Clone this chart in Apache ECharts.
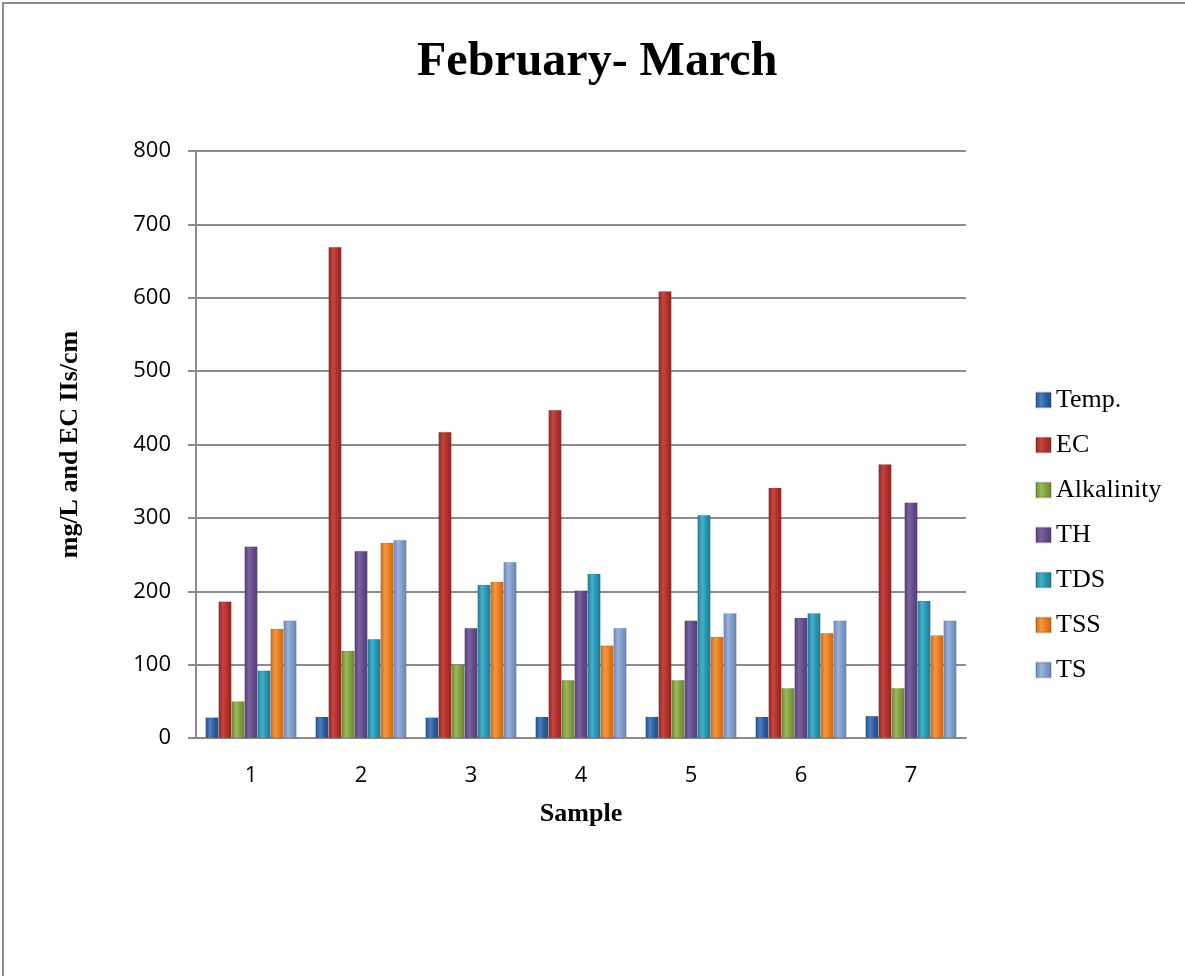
<!DOCTYPE html>
<html>
<head>
<meta charset="utf-8">
<script src="https://cdn.jsdelivr.net/npm/echarts@6/dist/echarts.min.js"></script>
<style>
html,body{margin:0;padding:0;background:#fff;}
#chart{width:1185px;height:976px;}
</style>
</head>
<body>
<div id="chart"></div>
<script>
const categories = ['1','2','3','4','5','6','7'];
const temp       = [28, 29, 28, 29, 29, 29, 30];
const ec         = [186, 669, 417, 447, 609, 341, 373];
const alkalinity = [50, 119, 100, 79, 79, 68, 68];
const th         = [261, 255, 150, 201, 160, 164, 321];
const tds        = [92, 135, 209, 224, 304, 170, 187];
const tss        = [149, 266, 213, 126, 138, 143, 140];
const ts         = [160, 270, 240, 150, 170, 160, 160];
const seriesNames = ['Temp.', 'EC', 'Alkalinity', 'TH', 'TDS', 'TSS', 'TS'];
const seriesData = [temp, ec, alkalinity, th, tds, tss, ts];
const baseColors = [
  ['#2a5a98', '#4a7fc2', '#234d85'],
  ['#a8302c', '#c9443f', '#8e2623'],
  ['#7f9c3c', '#9bbb59', '#6b8531'],
  ['#624a88', '#7d62a3', '#533e74'],
  ['#2593ad', '#45b0cb', '#1d7a90'],
  ['#e3791c', '#f7963f', '#c86817'],
  ['#7c98c6', '#98b2dc', '#6a84b0']
];

const chart = echarts.init(document.getElementById('chart'));

function grad(c) {
  return new echarts.graphic.LinearGradient(0, 0, 1, 0, [
    {offset: 0, color: c[2]},
    {offset: 0.35, color: c[1]},
    {offset: 0.7, color: c[0]},
    {offset: 1, color: c[2]}
  ]);
}

const series = seriesNames.map((n, i) => ({
  name: n,
  type: 'bar',
  data: seriesData[i],
  barWidth: 13,
  barGap: '0%',
  itemStyle: {color: grad(baseColors[i]), borderColor: 'rgba(0,0,0,0.15)', borderWidth: 0.5},
  emphasis: {disabled: true}
}));

chart.setOption({
  backgroundColor: '#fff',
  animation: false,
  title: {
    text: 'February- March',
    left: 412,
    top: 34,
    textStyle: {fontFamily: 'Liberation Serif', fontWeight: 'bold', fontSize: 48, color: '#000'}
  },
  graphic: [{
    type: 'polyline',
    shape: {points: [[3, 990], [3, 3], [1190, 3]]},
    style: {stroke: '#8c8c8c', lineWidth: 2, fill: null}
  }],
  legend: {
    orient: 'vertical',
    left: 1030,
    top: 382,
    itemWidth: 15,
    itemHeight: 15,
    itemGap: 19,
    icon: 'rect',
    data: seriesNames.map((n, i) => ({name: n, itemStyle: {color: grad(baseColors[i])}})),
    textStyle: {fontFamily: 'Liberation Serif', fontSize: 26, color: '#000', lineHeight: 26}
  },
  grid: {left: 196, right: 219, top: 151, bottom: 238, containLabel: false},
  xAxis: {
    type: 'category',
    data: categories,
    name: 'Sample',
    nameLocation: 'middle',
    nameGap: 63,
    nameTextStyle: {fontFamily: 'Liberation Serif', fontWeight: 'bold', fontSize: 26, color: '#000'},
    axisLine: {lineStyle: {color: '#8c8c8c', width: 2}},
    axisTick: {show: false},
    axisLabel: {fontFamily: 'Open Sans', fontSize: 22, color: '#000', margin: 27}
  },
  yAxis: {
    type: 'value',
    min: 0,
    max: 800,
    interval: 100,
    name: 'mg/L and EC IIs/cm',
    nameLocation: 'middle',
    nameGap: 113,
    nameRotate: 90,
    nameTextStyle: {fontFamily: 'Liberation Serif', fontWeight: 'bold', fontSize: 26, color: '#000'},
    axisLine: {show: true, lineStyle: {color: '#8c8c8c', width: 2}},
    axisTick: {show: true, length: 8, lineStyle: {color: '#8c8c8c', width: 2}},
    splitLine: {lineStyle: {color: '#8c8c8c', width: 2}},
    axisLabel: {fontFamily: 'Open Sans', fontSize: 22, color: '#000', margin: 25}
  },
  series: series
});
</script>
</body>
</html>
